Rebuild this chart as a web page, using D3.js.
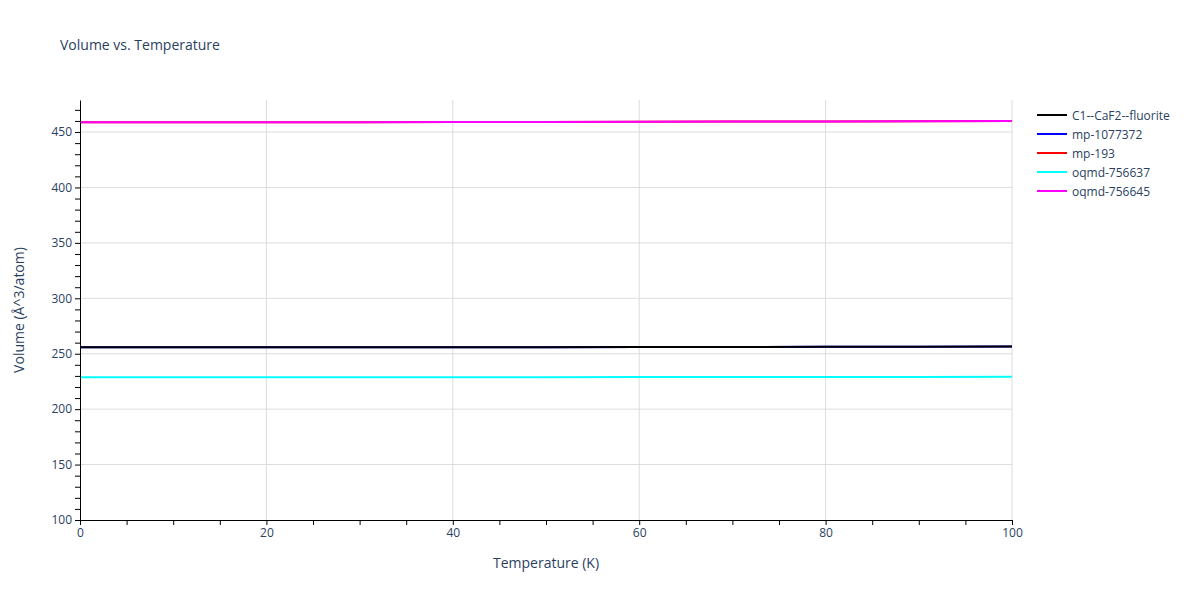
<!DOCTYPE html>
<html><head><meta charset="utf-8">
<script src="https://cdn.jsdelivr.net/npm/d3@7"></script>
<style>body{margin:0;background:#fff}text{font-family:"Open Sans",sans-serif}</style>
</head><body><div id="chart"></div>
<script>
// Séries : température (K) et volume
const temps = [0, 10, 20, 30, 40, 50, 60, 70, 80, 90, 100];
const seriesNames = ["C1--CaF2--fluorite", "mp-1077372", "mp-193", "oqmd-756637", "oqmd-756645"];
const seriesColors = ["#000000", "#0000ff", "#ff0000", "#00ffff", "#ff00ff"];
const volC1 = [255.8, 255.8, 255.8, 255.8, 255.9, 255.9, 256.0, 256.1, 256.2, 256.3, 256.5];
const volMp1077372 = [255.8, 255.8, 255.8, 255.8, 255.9, 255.9, 256.0, 256.1, 256.2, 256.3, 256.5];
const volMp193 = [458.8, 458.8, 458.8, 458.9, 459.0, 459.1, 459.2, 459.4, 459.6, 459.8, 460.0];
const volOqmd756637 = [228.7, 228.7, 228.7, 228.7, 228.8, 228.8, 228.9, 229.0, 229.0, 229.1, 229.2];
const volOqmd756645 = [458.8, 458.8, 458.8, 458.9, 459.0, 459.1, 459.2, 459.4, 459.6, 459.8, 460.0];
const seriesValues = [volC1, volMp1077372, volMp193, volOqmd756637, volOqmd756645];
const drawOrder = [2, 1, 0, 3, 4];

const W = 1200, H = 600;
const m = { top: 100, right: 188, bottom: 80, left: 80 };
const w = W - m.left - m.right, h = H - m.top - m.bottom;

const svg = d3.select("#chart").append("svg").attr("width", W).attr("height", H);
const g = svg.append("g").attr("transform", `translate(${m.left},${m.top})`);

const x = d3.scaleLinear().domain([0, 100]).range([0, w]);
const y = d3.scaleLinear().domain([100, 478.9]).range([h, 0]);

// Grilles
g.selectAll(".gx").data(d3.range(20, 101, 20)).enter().append("line")
  .attr("x1", d => x(d)).attr("x2", d => x(d)).attr("y1", 0).attr("y2", h)
  .attr("stroke", "#dcdcdc");
g.selectAll(".gy").data(d3.range(150, 451, 50)).enter().append("line")
  .attr("x1", 0).attr("x2", w).attr("y1", d => y(d)).attr("y2", d => y(d))
  .attr("stroke", "#dcdcdc");

// Courbes
const line = d3.line().x((d, i) => x(temps[i])).y(d => y(d));
drawOrder.forEach(k => {
  g.append("path").datum(seriesValues[k]).attr("d", line)
    .attr("fill", "none").attr("stroke", seriesColors[k]).attr("stroke-width", 2);
});

// Axes
const styleAxis = sel => {
  sel.select(".domain").attr("stroke", "#000");
  sel.selectAll("text").attr("fill", "#2a3f5f").style("font-size", "12px").style("font-family", "Open Sans");
};
g.append("g").attr("transform", `translate(0,${h})`)
  .call(d3.axisBottom(x).tickValues(d3.range(0, 101, 5)).tickSize(5).tickSizeOuter(0)
    .tickFormat(d => d % 20 === 0 ? d : ""))
  .call(styleAxis).call(s => s.selectAll("line").attr("stroke", "#000"));
g.append("g")
  .call(d3.axisLeft(y).tickValues(d3.range(100, 471, 10)).tickSize(5).tickSizeOuter(0)
    .tickFormat(d => d % 50 === 0 ? d : ""))
  .call(styleAxis).call(s => s.selectAll("line").attr("stroke", "#000"));

// Titres
svg.append("text").attr("x", 60).attr("y", 50).text("Volume vs. Temperature")
  .attr("fill", "#2a3f5f").style("font-size", "14px");
svg.append("text").attr("x", m.left + w / 2).attr("y", 568).attr("text-anchor", "middle")
  .text("Temperature (K)").attr("fill", "#2a3f5f").style("font-size", "14px");
svg.append("text").attr("transform", `translate(24,${m.top + h / 2}) rotate(-90)`)
  .attr("text-anchor", "middle").text("Volume (Å^3/atom)")
  .attr("fill", "#2a3f5f").style("font-size", "14px");

// Légende
const leg = svg.append("g").attr("transform", "translate(1037,115)");
seriesNames.forEach((n, i) => {
  const r = leg.append("g").attr("transform", `translate(0,${i * 19})`);
  r.append("line").attr("x1", 0).attr("x2", 30).attr("stroke", seriesColors[i]).attr("stroke-width", 2);
  r.append("text").attr("x", 35).attr("y", 4.5).text(n).attr("fill", "#2a3f5f").style("font-size", "12px");
});
</script></body></html>
